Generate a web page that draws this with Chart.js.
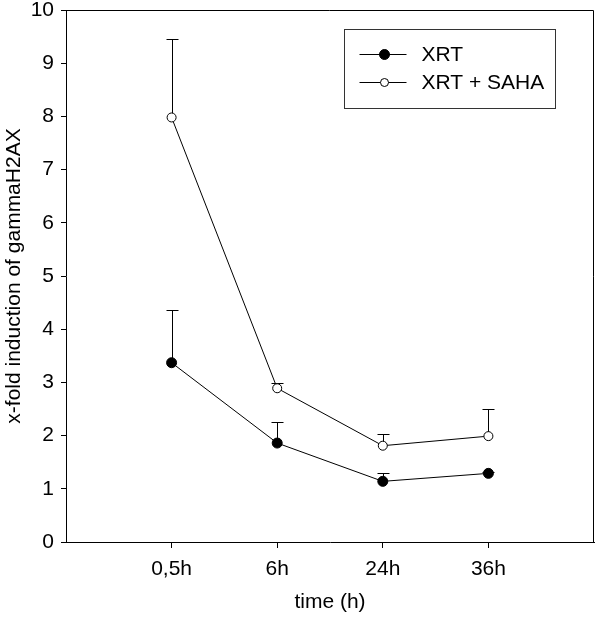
<!DOCTYPE html>
<html><head><meta charset="utf-8">
<script src="https://cdn.jsdelivr.net/npm/chart.js@4.4.0/dist/chart.umd.min.js"></script>
<style>html,body{margin:0;padding:0;background:#fff}</style>
</head><body>
<canvas id="c" width="600" height="617"></canvas>
<script>
const categories = ['0,5h', '6h', '24h', '36h'];
const xrtValues = [3.37, 1.86, 1.14, 1.29];
const xrtErrors = [0.99, 0.39, 0.16, 0.03];
const sahaValues = [7.98, 2.89, 1.81, 1.99];
const sahaErrors = [1.48, 0.09, 0.22, 0.51];
const seriesLabels = ['XRT', 'XRT + SAHA'];

const FONT = 'Liberation Sans, Arial, sans-serif';
const FS = 21;

const errorBars = {
  id: 'errorBars',
  beforeDatasetsDraw(chart) {
    const ctx = chart.ctx, xs = chart.scales.x, ys = chart.scales.y;
    const sets = [[xrtValues, xrtErrors], [sahaValues, sahaErrors]];
    ctx.save();
    ctx.strokeStyle = '#000';
    ctx.lineWidth = 1;
    sets.forEach(([vals, errs]) => {
      vals.forEach((v, i) => {
        const px = Math.round(xs.getPixelForValue(i + 1)) + 0.5;
        const y0 = ys.getPixelForValue(v);
        const y1 = Math.round(ys.getPixelForValue(v + errs[i])) + 0.5;
        ctx.beginPath();
        ctx.moveTo(px, y0);
        ctx.lineTo(px, y1);
        ctx.moveTo(px - 6, y1);
        ctx.lineTo(px + 6, y1);
        ctx.stroke();
      });
    });
    ctx.restore();
  }
};

const frame = {
  id: 'frame',
  afterDraw(chart) {
    const ctx = chart.ctx, a = chart.chartArea;
    ctx.save();
    ctx.strokeStyle = '#000';
    ctx.lineWidth = 1;
    ctx.beginPath();
    ctx.moveTo(Math.round(a.left), Math.round(a.top) + 0.5);
    ctx.lineTo(Math.round(a.right) - 0.5, Math.round(a.top) + 0.5);
    ctx.lineTo(Math.round(a.right) - 0.5, Math.round(a.bottom));
    ctx.stroke();

    // legend box
    const bx = Math.round(a.right - 250) + 0.5, by = Math.round(a.top + 19) + 0.5;
    const bw = 211, bh = 79;
    ctx.strokeStyle = '#333';
    ctx.strokeRect(bx, by, bw, bh);
    const rows = [
      { y: by + 25, fill: '#000', r: 5, label: seriesLabels[0] },
      { y: by + 53, fill: '#fff', r: 4, label: seriesLabels[1] }
    ];
    ctx.font = FS + 'px ' + FONT;
    ctx.textBaseline = 'middle';
    ctx.fillStyle = '#000';
    rows.forEach(rw => {
      ctx.strokeStyle = '#000';
      ctx.beginPath();
      ctx.moveTo(bx + 15, rw.y);
      ctx.lineTo(bx + 62, rw.y);
      ctx.stroke();
      ctx.beginPath();
      ctx.arc(bx + 40, rw.y, rw.r, 0, Math.PI * 2);
      ctx.fillStyle = rw.fill;
      ctx.fill();
      ctx.stroke();
      ctx.fillStyle = '#000';
      ctx.fillText(rw.label, bx + 77, rw.y + 1);
    });
    ctx.restore();
  }
};

new Chart(document.getElementById('c'), {
  type: 'line',
  data: {
    datasets: [
      {
        label: seriesLabels[0],
        data: categories.map((c, i) => ({ x: i + 1, y: xrtValues[i] })),
        borderColor: '#000', borderWidth: 1,
        pointRadius: 5, pointBackgroundColor: '#000', pointBorderColor: '#000', pointBorderWidth: 1,
        tension: 0
      },
      {
        label: seriesLabels[1],
        data: categories.map((c, i) => ({ x: i + 1, y: sahaValues[i] })),
        borderColor: '#000', borderWidth: 1,
        pointRadius: 4.5, pointBackgroundColor: '#fff', pointBorderColor: '#000', pointBorderWidth: 1,
        tension: 0
      }
    ]
  },
  options: {
    responsive: false,
    devicePixelRatio: 1,
    animation: false,
    layout: { padding: { top: 10, right: 2, left: 0, bottom: 0 } },
    plugins: { legend: { display: false }, tooltip: { enabled: false } },
    scales: {
      x: {
        type: 'linear', min: 0, max: 5,
        afterBuildTicks: s => { s.ticks = categories.map((c, i) => ({ value: i + 1 })); },
        ticks: { callback: v => categories[v - 1], font: { family: FONT, size: FS }, color: '#000', padding: 9, maxRotation: 0 },
        grid: { drawOnChartArea: false, drawTicks: true, tickLength: 6, color: '#000' },
        border: { color: '#000', width: 1 },
        title: { display: true, text: 'time (h)', font: { family: FONT, size: FS }, color: '#000', padding: { top: 0, bottom: 2 } },
        afterFit: s => { s.height = 75; s.paddingLeft = 0; s.paddingRight = 0; }
      },
      y: {
        type: 'linear', min: 0, max: 10,
        ticks: { stepSize: 1, font: { family: FONT, size: FS }, color: '#000', padding: 7 },
        grid: { drawOnChartArea: false, drawTicks: true, tickLength: 5, color: '#000' },
        border: { color: '#000', width: 1 },
        title: { display: true, text: 'x-fold induction of gammaH2AX', font: { family: FONT, size: FS }, color: '#000', padding: { top: 2, bottom: 0 } },
        afterFit: s => { s.width = 66; s.paddingTop = 0; s.paddingBottom = 0; }
      }
    }
  },
  plugins: [errorBars, frame]
});
</script>
</body></html>
